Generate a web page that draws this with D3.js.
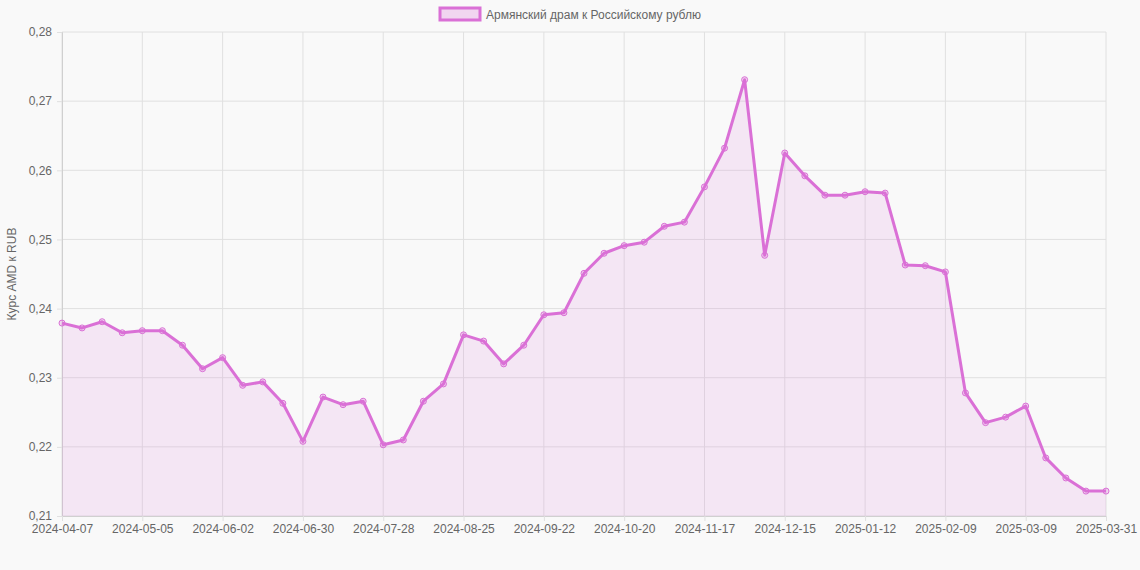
<!DOCTYPE html>
<html><head><meta charset="utf-8">
<script src="https://cdn.jsdelivr.net/npm/d3@7"></script>
<style>body{margin:0;background:#f9f9f9;font-family:"Liberation Sans",Arial,sans-serif}</style>
</head><body><svg id="c" width="1140" height="570"></svg>
<script>
const startDate = "2024-04-07";
const lastLabel = "2025-03-31";
const values = [0.2379,0.2372,0.2381,0.2365,0.2368,0.2368,0.2347,0.2313,0.2329,0.2289,0.2294,0.2263,0.2208,0.2272,0.2261,0.2266,0.2203,0.2210,0.2266,0.2291,0.2362,0.2353,0.2320,0.2347,0.2391,0.2394,0.2451,0.2480,0.2491,0.2496,0.2519,0.2525,0.2576,0.2632,0.2731,0.2477,0.2625,0.2592,0.2564,0.2564,0.2569,0.2567,0.2463,0.2462,0.2453,0.2278,0.2235,0.2243,0.2259,0.2184,0.2155,0.2136,0.2136];
const yTicks = [0.21,0.22,0.23,0.24,0.25,0.26,0.27,0.28];
const seriesName = "Армянский драм к Российскому рублю";
const yTitle = "Курс AMD к RUB";

const fmt = d3.utcFormat("%Y-%m-%d");
const s = new Date(startDate+"T00:00:00Z");
const labels = values.map((v,i)=> i===values.length-1 ? lastLabel : fmt(new Date(s.getTime()+i*7*864e5)));

const svg = d3.select("#c");
const L=62,R=1106,T=32,B=516;
const x = d3.scalePoint().domain(d3.range(values.length)).range([L,R]);
const y = d3.scaleLinear().domain([0.21,0.28]).range([B,T]);
const tickIdx = d3.range(0,values.length,4).concat([values.length-1]).filter((v,i,a)=>a.indexOf(v)===i);

const g = svg.append("g");
g.selectAll(".hy").data(yTicks).join("line").attr("x1",L).attr("x2",R).attr("y1",d=>y(d)).attr("y2",d=>y(d)).attr("stroke","#e0e0e0");
g.selectAll(".vx").data(tickIdx).join("line").attr("x1",d=>x(d)).attr("x2",d=>x(d)).attr("y1",T).attr("y2",B).attr("stroke","#e0e0e0");

const yAx = svg.append("g").attr("transform",`translate(${L},0)`).call(d3.axisLeft(y).tickValues(yTicks).tickSize(5).tickFormat(d=>d.toFixed(2).replace(".",",")));
const xAx = svg.append("g").attr("transform",`translate(0,${B})`).call(d3.axisBottom(x).tickValues(tickIdx).tickSize(5).tickFormat(i=>labels[i]));
[yAx,xAx].forEach(a=>{a.select(".domain").attr("stroke","#d0d0d0");a.selectAll(".tick line").attr("stroke","#e0e0e0");a.selectAll("text").attr("fill","#666").attr("font-size",12).attr("font-family","Liberation Sans, Arial");});
yAx.selectAll("text").attr("dx",-2);

svg.append("path").datum(values).attr("d",d3.area().x((d,i)=>x(i)).y0(B).y1(d=>y(d))).attr("fill","rgba(218,112,214,0.13)");
svg.append("path").datum(values).attr("d",d3.line().x((d,i)=>x(i)).y(d=>y(d))).attr("fill","none").attr("stroke","#da70d6").attr("stroke-width",3).attr("stroke-linejoin","round");
svg.selectAll(".pt").data(values).join("circle").attr("cx",(d,i)=>x(i)).attr("cy",d=>y(d)).attr("r",3).attr("fill","rgba(218,112,214,0.25)").attr("stroke","#da70d6").attr("stroke-width",1);

svg.append("text").attr("transform",`translate(16,${(T+B)/2}) rotate(-90)`).attr("text-anchor","middle").attr("fill","#666").attr("font-size",12).text(yTitle);

const lg = svg.append("g");
lg.append("rect").attr("x",440).attr("y",8).attr("width",40).attr("height",12).attr("fill","rgba(218,112,214,0.25)").attr("stroke","#da70d6").attr("stroke-width",3);
lg.append("text").attr("x",486).attr("y",18.5).attr("fill","#666").attr("font-size",12).text(seriesName);
</script></body></html>
